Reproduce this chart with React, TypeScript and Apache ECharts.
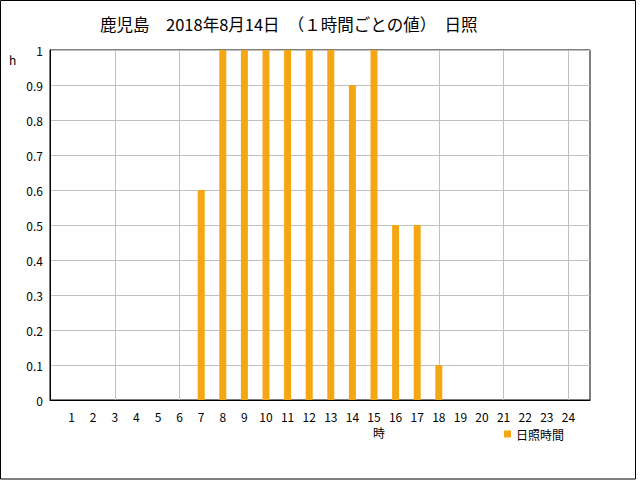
import React, { useEffect, useRef } from "react";
import * as echarts from "echarts";

const hours = ["1","2","3","4","5","6","7","8","9","10","11","12","13","14","15","16","17","18","19","20","21","22","23","24"];
const sunshine = [0,0,0,0,0,0,0.6,1,1,1,1,1,1,0.9,1,0.5,0.5,0.1,0,0,0,0,0,0];
const titleText = "鹿児島　2018年8月14日　（１時間ごとの値）　日照";
const seriesName = "日照時間";
const xName = "時";
const yUnit = "h";

const FONT = "'Noto Sans CJK JP', 'DejaVu Sans', sans-serif";

export default function App() {
  const ref = useRef<HTMLDivElement>(null);
  useEffect(() => {
    document.body.style.margin = "0";
    const chart = echarts.init(ref.current!, null, { renderer: "svg" });
    const cats = ["", ...hours, ""];
    const data = ["-", ...sunshine.map((v) => (v > 0 ? v : "-")), "-"];
    chart.setOption({
      animation: false,
      backgroundColor: "#fff",
      textStyle: { fontFamily: FONT },
      title: {
        text: titleText,
        left: 95,
        top: 11,
        textStyle: { fontFamily: FONT, fontSize: 16.5, fontWeight: "normal", color: "#000" },
      },
      legend: {
        data: [{ name: seriesName, icon: "rect" }],
        left: 504,
        top: 428,
        padding: 0,
        itemWidth: 7,
        itemHeight: 7,
        itemGap: 7,
        textStyle: { fontFamily: FONT, fontSize: 12, lineHeight: 12, color: "#000" },
      },
      grid: {
        left: 50,
        right: 50,
        top: 50,
        bottom: 80,
        show: true,
        borderColor: "#000",
        borderWidth: 1,
        backgroundColor: "transparent",
      },
      xAxis: {
        type: "category",
        data: cats,
        boundaryGap: false,
        axisLine: { show: true, lineStyle: { color: "#000", width: 1 } },
        axisTick: { show: false },
        axisLabel: {
          interval: 0,
          margin: 10,
          fontFamily: FONT,
          fontSize: 12,
          lineHeight: 12,
          color: "#000",
        },
        splitLine: {
          show: true,
          interval: (i: number) => i > 0 && i < 25 && i % 3 === 0,
          lineStyle: { color: "#c0c0c0", width: 1 },
        },
      },
      yAxis: {
        type: "value",
        min: 0,
        max: 1,
        interval: 0.1,
        axisLine: { show: true, lineStyle: { color: "#000", width: 1 } },
        axisTick: { show: false },
        axisLabel: {
          margin: 7,
          fontFamily: FONT,
          fontSize: 12,
          color: "#000",
          formatter: (v: number) => String(Math.round(v * 10) / 10),
        },
        splitLine: { show: true, lineStyle: { color: "#c0c0c0", width: 1 } },
      },
      graphic: [
        {
          type: "rect",
          shape: { x: 0.5, y: 0.5, width: 635, height: 478.5 },
          style: { fill: "none", stroke: "#000", lineWidth: 1 },
          silent: true,
        },
        {
          type: "text",
          left: 9,
          top: 53,
          style: { text: yUnit, font: `12px ${FONT}`, fill: "#000" },
        },
        {
          type: "text",
          left: 373,
          top: 426,
          style: { text: xName, font: `12px ${FONT}`, lineHeight: 12, fill: "#000" },
        },
      ],
      series: [
        {
          name: seriesName,
          type: "bar",
          data,
          barWidth: 7,
          itemStyle: { color: "#F5A614" },
        },
      ],
    });
    return () => chart.dispose();
  }, []);
  return <div ref={ref} style={{ width: 640, height: 480 }} />;
}
